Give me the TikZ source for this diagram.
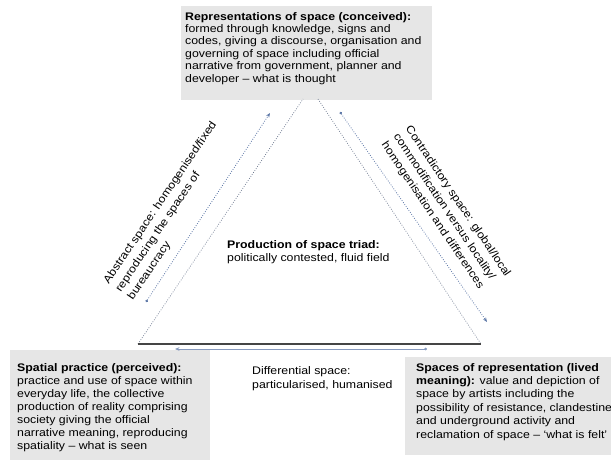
\documentclass[tikz,border=0pt]{standalone}
\usepackage{fontspec}
\setmainfont[FakeStretch=1.12]{Liberation Sans}
\usetikzlibrary{arrows.meta}
\definecolor{boxgray}{HTML}{E6E6E6}
\definecolor{dotblue}{HTML}{5F79A8}
\definecolor{sidegray}{HTML}{6E7A90}
\definecolor{linegray}{HTML}{454545}
\begin{document}
\begin{tikzpicture}[x=1pt,y=-1pt,
  box/.style={fill=boxgray, draw=none, anchor=north west, inner sep=0pt, outer sep=0pt},
  txt/.style={anchor=north west, inner sep=0pt, align=left, font=\fontsize{11}{12.4}\selectfont},
  diag/.style={txt, font=\fontsize{11}{14.5}\selectfont},
  side/.style={draw=sidegray, line width=0.7pt, dash pattern=on 0.8pt off 1.6pt},
  flow/.style={draw=dotblue, line width=0.8pt, dash pattern=on 0.8pt off 1.6pt,
               {Circle[length=2.6pt,sep=0pt]}-{Stealth[length=4.5pt,width=3.6pt]}},
  base/.style={draw=linegray, line width=1.4pt},
  baseflow/.style={draw=dotblue!75!white, line width=0.9pt,
               {Circle[length=2.6pt]}-{Stealth[length=4.5pt,width=3.6pt]}},
]
\useasboundingbox (0,0) rectangle (611,460);
\clip (0,0) rectangle (611,460);

% boxes
\node[box, minimum width=251, minimum height=94] (repbox) at (181,6) {};
\node[box, minimum width=200, minimum height=115] (spbox) at (10,350) {};
\node[box, minimum width=215, minimum height=98] (sorbox) at (405,357) {};

% box texts
\node[txt] (rep) at (185,12) {\textbf{Representations of space (conceived):}\\
formed through knowledge, signs and\\
codes, giving a discourse, organisation and\\
governing of space including official\\
narrative from government, planner and\\
developer – what is thought};

\node[txt, font=\fontsize{11}{13}\selectfont] (sp) at (17,363) {\textbf{Spatial practice (perceived):}\\
practice and use of space within\\
everyday life, the collective\\
production of reality comprising\\
society giving the official\\
narrative meaning, reproducing\\
spatiality – what is seen};

\node[txt, font=\fontsize{11}{13.4}\selectfont] (sor) at (416,363) {\textbf{Spaces of representation (lived}\\
\textbf{meaning):} value and depiction of\\
space by artists including the\\
possibility of resistance, clandestine\\
and underground activity and\\
reclamation of space – ‘what is felt’};

\node[txt, font=\fontsize{11}{13.3}\selectfont] (triad) at (227,240) {\textbf{Production of space triad:}\\
politically contested, fluid field};

\node[txt, font=\fontsize{11}{14}\selectfont] (diff) at (252,366) {Differential space:\\
particularised, humanised};

% diagonal labels
\node[diag, rotate=56] (abs) at (102,280) {Abstract space: homogenised/fixed\\
reproducing the spaces of\\
bureaucracy};

\node[diag, rotate=-56] (contra) at (412,124) {Contradictory space: global/local\\
commodification versus locality/\\
homogenisation and differences};

% triangle
\coordinate (BL) at (138,344);
\coordinate (BR) at (481,344);
\coordinate (TL) at (303,99);
\coordinate (TR) at (318,99);
\draw[side] (BL) -- (TL);
\draw[side] (TR) -- (BR);
\draw[base] (BL) -- (BR);

% flow arrows
\coordinate (la) at (146,302);
\coordinate (lb) at (270,113);
\coordinate (ra) at (340,112);
\coordinate (rb) at (487,322);
\coordinate (ba) at (427,349);
\coordinate (bb) at (175,349);
\draw[flow] (la) -- (lb);
\draw[flow] (ra) -- (rb);
\draw[baseflow] (ba) -- (bb);
\end{tikzpicture}
\end{document}
